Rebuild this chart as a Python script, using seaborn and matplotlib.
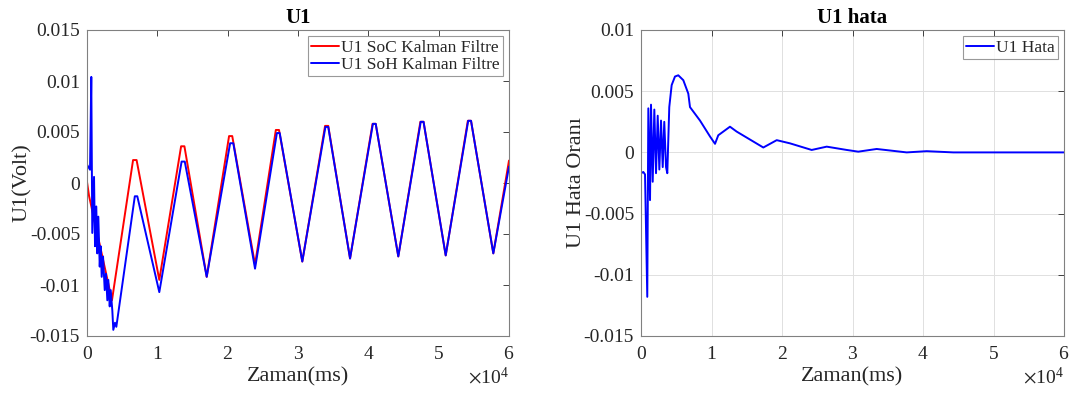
import matplotlib
matplotlib.use("Agg")
import matplotlib.pyplot as plt
import matplotlib.ticker as mticker
import seaborn as sns
import pandas as pd

# ---- data ----
soc_t = [0, 300, 3550, 6550, 7050, 10280, 13380, 13850, 17020, 20200, 20650,
         23890, 26850, 27300, 30610, 33850, 34300, 37400, 40600, 41050, 44260,
         47400, 47850, 51000, 54150, 54600, 57770, 60000]
soc_v = [0.0001, -0.0013, -0.0115, 0.00225, 0.00225, -0.0095, 0.0036, 0.0036,
         -0.0092, 0.0046, 0.0046, -0.0080, 0.0052, 0.0052, -0.0077, 0.0056,
         0.0056, -0.0074, 0.0058, 0.0058, -0.0072, 0.0060, 0.0060, -0.0071,
         0.0061, 0.0061, -0.0069, 0.0022]

soh_t = [0, 430, 610, 750, 1000, 1140, 1320, 1460, 1610, 1810, 1950, 2090,
         2280, 2520, 2700, 2890, 3030, 3230, 3370, 3600, 3740, 3980, 4170,
         6800, 7150, 10280, 13450, 13900, 17020, 20350, 20800, 23890, 27000,
         27400, 30610, 33900, 34300, 37400, 40650, 41050, 44260, 47450, 47850,
         51000, 54200, 54600, 57770, 60000]
soh_v = [0.0018, 0.0013, 0.0104, -0.0049, 0.0006, -0.0062, -0.0023, -0.0069,
         -0.0033, -0.0082, -0.0062, -0.0092, -0.0072, -0.0105, -0.0089, -0.0115,
         -0.0095, -0.0121, -0.0105, -0.0125, -0.0144, -0.0137, -0.0141,
         -0.0013, -0.0013, -0.0107, 0.0021, 0.0021, -0.0092, 0.0039, 0.0039,
         -0.0084, 0.0049, 0.0049, -0.0077, 0.0055, 0.0055, -0.0074, 0.0058,
         0.0058, -0.0072, 0.0060, 0.0060, -0.0071, 0.0061, 0.0061, -0.0069,
         0.0016]

err_t = [0, 330, 570, 890, 1040, 1280, 1420, 1660, 1890, 2130, 2370, 2600,
         2840, 3080, 3300, 3550, 3730, 4010, 4350, 4820, 5290, 6000, 6710,
         6950, 8370, 9790, 10500, 10960, 12620, 13570, 17350, 19250, 21130,
         24210, 26340, 29180, 30820, 33430, 37690, 40520, 44300, 60000]
err_v = [-0.0017, -0.0016, -0.0018, -0.0118, 0.0036, -0.0039, 0.0039, -0.0024,
         0.0035, -0.0017, 0.0030, -0.0014, 0.0026, -0.0012, 0.0025, -0.0012,
         -0.0017, 0.0037, 0.0055, 0.0062, 0.0063, 0.0059, 0.0048, 0.0037,
         0.0026, 0.0013, 0.0007, 0.0014, 0.0021, 0.0017, 0.0004, 0.0010,
         0.00074, 0.0002, 0.00047, 0.0002, 0.00006, 0.00028, 0.0, 0.0001,
         0.0, 0.0]

xticks = [0, 10000, 20000, 30000, 40000, 50000, 60000]
left_yticks = [-0.015, -0.01, -0.005, 0, 0.005, 0.01, 0.015]
right_yticks = [-0.015, -0.01, -0.005, 0, 0.005, 0.01]

# ---- style ----
sns.set_theme(style="white")
plt.rcParams['font.family'] = ['Liberation Serif', 'DejaVu Serif']
plt.rcParams['axes.unicode_minus'] = False
plt.rcParams['mathtext.fontset'] = 'stix'

axc = '#262626'
fig = plt.figure(figsize=(10.72, 3.96), dpi=100)
axL = fig.add_axes([87/1072, 60/396, 422/1072, 306/396])
axR = fig.add_axes([641/1072, 60/396, 423/1072, 306/396])

df_soc = pd.DataFrame({'t': soc_t, 'v': soc_v})
df_soh = pd.DataFrame({'t': soh_t, 'v': soh_v})
df_err = pd.DataFrame({'t': err_t, 'v': err_v})

sns.lineplot(data=df_soc, x='t', y='v', ax=axL, color='#ff0000', lw=1.4,
             label='U1 SoC Kalman Filtre', estimator=None, sort=False)
sns.lineplot(data=df_soh, x='t', y='v', ax=axL, color='#0000ff', lw=1.4,
             label='U1 SoH Kalman Filtre', estimator=None, sort=False)
sns.lineplot(data=df_err, x='t', y='v', ax=axR, color='#0000ff', lw=1.4,
             label='U1 Hata', estimator=None, sort=False)

def yfmt(v, pos):
    s = '%g' % round(v, 6)
    return '0' if s in ('-0', '0') else s

for ax, ylim, yt, title, ylabel in [
        (axL, (-0.015, 0.015), left_yticks, 'U1', 'U1(Volt)'),
        (axR, (-0.015, 0.01), right_yticks, 'U1 hata', 'U1 Hata Oranı')]:
    ax.set_xlim(0, 60000)
    ax.set_ylim(*ylim)
    ax.set_xticks(xticks)
    ax.set_yticks(yt)
    ax.yaxis.set_major_formatter(mticker.FuncFormatter(yfmt))
    fmt = mticker.ScalarFormatter(useMathText=True)
    fmt.set_powerlimits((0, 0))
    ax.xaxis.set_major_formatter(fmt)
    ax.xaxis.get_offset_text().set_fontsize(14)
    ax.xaxis.get_offset_text().set_color(axc)
    ax.tick_params(direction='in', length=4, width=0.6, colors=axc,
                   labelsize=14, top=True, right=True, pad=5)
    ax.tick_params(axis='x', pad=7)
    for sp in ax.spines.values():
        sp.set_visible(True)
        sp.set_color('#808080')
        sp.set_linewidth(0.8)
    ax.set_title(title, fontsize=15, fontweight='bold', color='black', pad=5)
    ax.set_xlabel('Zaman(ms)', fontsize=16, color=axc, labelpad=3)
    ax.set_ylabel(ylabel, fontsize=16, color=axc, labelpad=-2)
    leg = ax.legend(loc='upper right', fontsize=12.5, frameon=True, fancybox=False,
                    edgecolor='#808080', handlelength=1.6, handletextpad=0.1,
                    borderpad=0.2, labelspacing=0.05, borderaxespad=0.35)
    leg.get_frame().set_linewidth(0.8)
    for txt in leg.get_texts():
        txt.set_color(axc)

axR.grid(True, color='#e0e0e0', linewidth=0.7)
axR.set_axisbelow(True)
axL.grid(False)

fig.savefig('out.png', dpi=100)
